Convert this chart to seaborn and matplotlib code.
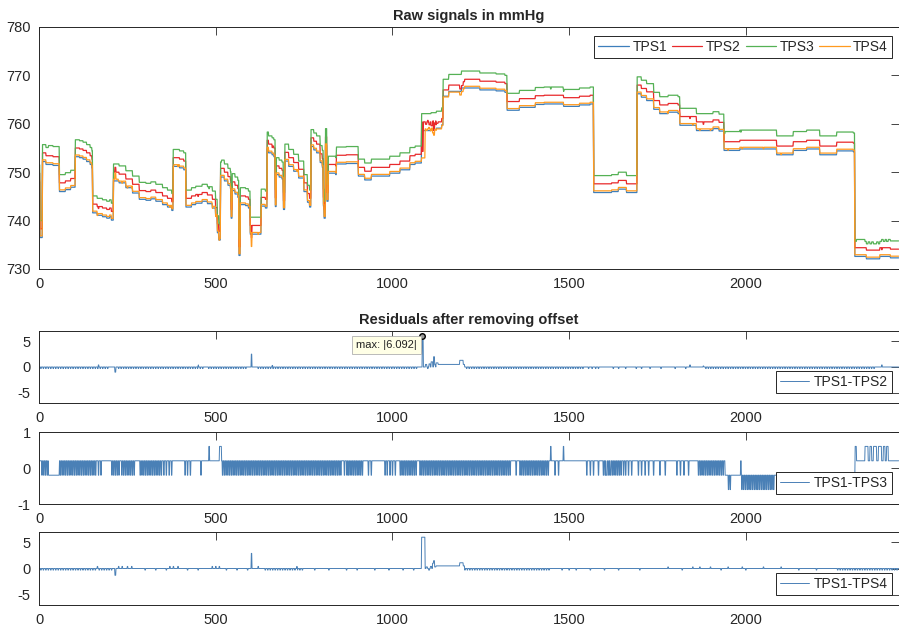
import numpy as np
import pandas as pd
import matplotlib
matplotlib.use("Agg")
import matplotlib.pyplot as plt
import seaborn as sns

# ---------------- data ----------------
n_samples = 2434

# TPS1 raw pressure (mmHg): level held from each knot sample until the next knot
tps1_knot_x = [0, 3, 10, 20, 40, 58, 75, 90, 103, 115, 125, 135, 145, 150,
               152, 165, 180, 192, 200, 205, 211, 227, 246, 265, 284, 303, 317,
               331, 350, 364, 376, 380, 398, 410, 416, 432, 444, 462, 477, 491,
               500, 505, 509, 514, 525, 535, 542, 544, 547, 555, 563, 566, 570,
               585, 593, 598, 629, 641, 646, 650, 660, 665, 669, 672, 680, 688,
               692, 696, 707, 721, 735, 750, 760, 766, 770, 778, 786, 796, 802,
               805, 807, 811, 815, 819, 840, 842, 870, 904, 922, 941, 993, 1022,
               1050, 1065, 1083, 1110, 1125, 1140, 1144, 1160, 1196, 1248, 1294,
               1319, 1325, 1360, 1405, 1430, 1485, 1530, 1560, 1570, 1621, 1640,
               1663, 1693, 1705, 1720, 1740, 1757, 1781, 1809, 1814, 1861, 1908,
               1925, 1939, 1984, 2040, 2088, 2135, 2173, 2210, 2258, 2305, 2309,
               2342, 2380, 2410]
tps1_knot_y = [748.0, 736.5, 752.2, 751.6, 751.4, 746.0, 746.4, 746.9, 753.2,
               753.0, 752.7, 752.2, 751.6, 750.9, 741.6, 741.1, 740.8, 740.5,
               740.8, 740.1, 748.2, 747.8, 746.8, 745.7, 744.4, 744.2, 744.5,
               744.0, 743.3, 742.8, 742.1, 751.2, 750.9, 750.5, 742.8, 743.3,
               743.6, 744.0, 743.5, 742.6, 740.9, 737.5, 736.0, 749.0, 748.2,
               747.3, 746.6, 740.5, 746.2, 745.5, 744.8, 732.8, 743.3, 743.1,
               742.6, 737.2, 743.0, 742.6, 754.8, 754.0, 753.6, 753.2, 742.9,
               749.5, 749.0, 748.6, 742.3, 752.3, 751.2, 750.2, 748.8, 746.0,
               743.8, 742.8, 755.3, 754.6, 754.0, 752.0, 751.0, 743.0, 740.5,
               755.5, 744.0, 749.8, 749.5, 751.7, 751.8, 749.2, 748.4, 749.2,
               749.8, 750.5, 751.6, 751.9, 758.6, 758.8, 759.1, 759.8, 765.7,
               766.7, 767.4, 767.0, 766.8, 766.5, 762.8, 763.4, 764.0, 764.1,
               763.6, 763.9, 764.1, 745.8, 746.0, 746.5, 745.8, 766.2, 765.5,
               764.8, 763.0, 762.1, 762.4, 762.1, 759.7, 758.6, 759.0, 758.5,
               754.5, 754.8, 754.8, 753.6, 754.5, 754.8, 753.6, 754.4, 754.2,
               732.6, 732.1, 732.6, 732.3]

# mean offsets of the other sensors relative to TPS1 (mmHg, read from the gaps)
tps2_offset = 1.8
tps3_offset = 3.5
tps4_offset = 0.35

# --- residual TPS1-TPS2 ---
r12_base_x = [0]
r12_base_y = [0.0]
r12_spikes = [(215, 218, -1.0), (601, 603, 2.5), (1085, 1088, 6.092),
              (1094, 1098, 0.5), (1100, 1102, -0.3), (1104, 1108, 0.6),
              (1110, 1115, 1.0), (1117, 1120, 2.0), (1120, 1123, 0.4),
              (1124, 1130, 0.8), (1130, 1191, 0.5), (1191, 1201, 1.3),
              (1201, 1205, 0.5), (1842, 1844, 0.4), (1880, 1882, 0.5),
              (2385, 2387, 0.4), (168, 170, 0.4), (450, 452, 0.4), (660, 662, 0.3)]
r12_dense = [(5, 200), (225, 470), (480, 590), (620, 1075), (1210, 1540),
             (1880, 2370)]
r12_sparse = [1555, 1565, 1575, 1583, 1625, 1640, 1660, 1690, 1705, 1729,
              1760, 1800, 1830]

# --- residual TPS1-TPS3 ---
r13_base_x = [0, 27, 58, 1942, 2310]
r13_base_y = [0.2, -0.2, 0.2, -0.2, 0.2]
r13_spikes = [(481, 483, 0.6), (511, 517, 0.6), (1448, 1450, 0.6),
              (1484, 1486, 0.6), (1986, 1988, 0.2), (2310, 2314, 0.6),
              (2338, 2347, 0.6), (2352, 2357, 0.6), (2362, 2371, 0.6),
              (2376, 2385, 0.6), (2390, 2395, 0.6), (2399, 2404, 0.6)]
r13_dense = [(8, 26), (60, 163), (206, 229), (234, 272), (286, 347),
             (519, 857), (875, 918), (1022, 1069), (1078, 1338), (1361, 1446),
             (1602, 1649), (1866, 1937), (1951, 1960), (1989, 2083), (2090, 2300)]
r13_sparse = [168, 175, 353, 360, 368, 375, 413, 420, 428, 458, 864, 871, 932,
              940, 979, 985, 993, 1000, 1008, 1350, 1460, 1470, 1550, 1560,
              1569, 1583, 1597, 1605, 1616, 1654, 1660, 1668, 1677, 1696, 1705,
              1715, 1725, 1739, 1757, 1772, 1805, 1815, 1825, 1838]

# --- residual TPS1-TPS4 ---
r14_base_x = [0]
r14_base_y = [0.0]
r14_spikes = [(215, 218, -1.3), (601, 603, 2.9), (1083, 1093, 6.0),
              (1096, 1100, 0.3), (1103, 1106, -0.3), (1108, 1112, 0.4),
              (1114, 1117, 1.0), (1117, 1120, 1.5), (1120, 1124, 0.3),
              (1124, 1191, 0.5), (1191, 1201, 1.1), (1201, 1205, 0.5),
              (165, 167, 0.4), (225, 227, 0.4), (235, 237, 0.4), (250, 252, 0.4),
              (262, 264, 0.4), (370, 372, 0.4), (380, 382, 0.4), (393, 395, 0.4),
              (490, 492, 0.4), (500, 502, 0.4), (510, 512, 0.4), (620, 622, 0.4),
              (730, 732, 0.4), (1780, 1782, 0.3), (1850, 1852, 0.3),
              (1870, 1872, 0.3), (1900, 1902, 0.3), (1950, 1952, 0.3),
              (1990, 1992, 0.3), (2050, 2052, 0.3), (2100, 2102, 0.3)]
r14_dense = [(5, 160), (170, 210), (640, 750), (1205, 1446), (2260, 2430)]
r14_sparse = [300, 330, 360, 420, 450, 530, 560, 590, 780, 820, 870, 900,
              950, 990, 1030, 1060, 1480, 1500, 1520, 1560, 1600, 1640, 1700,
              1820, 1930, 2000, 2150, 2200]

residual_labels = ["TPS1-TPS2", "TPS1-TPS3", "TPS1-TPS4"]
raw_labels = ["TPS1", "TPS2", "TPS3", "TPS4"]

# ---------------- assemble series ----------------
samples = np.arange(n_samples)


def hold(knot_x, knot_y):
    idx = np.searchsorted(np.asarray(knot_x), samples, side="right") - 1
    return np.asarray(knot_y, dtype=float)[idx]


def residual(base_x, base_y, spikes, dense, sparse, flicker=-0.4, step=4):
    main = hold(base_x, base_y)
    for s, e, v in spikes:
        main[s:e] = v
    full = main.copy()
    dips = list(sparse)
    for s, e in dense:
        dips.extend(range(s, e, step))
    for p in dips:
        if p < n_samples:
            full[p:p + 2] = main[p:p + 2] + flicker
    return main, full


r12_main, r12 = residual(r12_base_x, r12_base_y, r12_spikes, r12_dense, r12_sparse,
                         flicker=-0.3, step=7)
r13_main, r13 = residual(r13_base_x, r13_base_y, r13_spikes, r13_dense, r13_sparse,
                         flicker=-0.4, step=5)
r14_main, r14 = residual(r14_base_x, r14_base_y, r14_spikes, r14_dense, r14_sparse,
                         flicker=-0.3, step=7)

tps1 = hold(tps1_knot_x, tps1_knot_y)
tps2 = tps1 + tps2_offset - r12_main
tps3 = tps1 + tps3_offset - (r13_main - 0.2)
tps4 = tps1 + tps4_offset - r14_main

raw = pd.DataFrame({"sample": samples, "TPS1": tps1, "TPS2": tps2,
                    "TPS3": tps3, "TPS4": tps4})

# ---------------- drawing ----------------
sns.set_style("white")
plt.rcParams["font.family"] = ["Liberation Sans", "DejaVu Sans"]
plt.rcParams["axes.unicode_minus"] = False

raw_colors = ["#3d7ebb", "#e8292b", "#55b155", "#ff9a1f"]
res_color = "#4a80b6"
spine_c = "#262626"

fig = plt.figure(figsize=(8.99, 6.29), dpi=100)
W, H = 899.0, 629.0
left = 39 / W
width = 1.0 - left


def make_ax(top_px, bottom_px):
    return fig.add_axes([left, 1 - bottom_px / H, width, (bottom_px - top_px) / H])


ax0 = make_ax(27, 269)
ax1 = make_ax(331, 403)
ax2 = make_ax(432, 504)
ax3 = make_ax(532, 605)


def style(ax):
    for sp in ax.spines.values():
        sp.set_color(spine_c)
        sp.set_linewidth(0.7)
    ax.tick_params(direction="in", length=6, width=0.6, colors=spine_c,
                   top=True, right=True, labelsize=10.5, pad=6,
                   labelcolor="#262626")
    ax.set_xlim(0, n_samples)
    ax.set_xticks([0, 500, 1000, 1500, 2000])
    ax.set_xlabel("")
    ax.set_ylabel("")


for lab, col in zip(raw_labels, raw_colors):
    sns.lineplot(data=raw, x="sample", y=lab, ax=ax0, color=col, lw=0.9,
                 label=lab, estimator=None, sort=False)
style(ax0)
ax0.set_ylim(730, 780)
ax0.set_yticks([730, 740, 750, 760, 770, 780])
ax0.set_title("Raw signals in mmHg", fontsize=10.5, fontweight="bold", pad=5)
leg = ax0.legend(loc="upper right", bbox_to_anchor=(0.992, 0.963), ncol=4,
                 fontsize=10, handlelength=2.2, handletextpad=0.25,
                 columnspacing=0.35, borderpad=0.3, borderaxespad=0,
                 fancybox=False, framealpha=1, edgecolor=spine_c)
leg.get_frame().set_linewidth(0.7)

res_axes = [ax1, ax2, ax3]
res_series = [r12, r13, r14]
ylims = [(-7, 7), (-1, 1), (-7, 7)]
yticks = [[-5, 0, 5], [-1, 0, 1], [-5, 0, 5]]
for ax, ser, lab, yl, yt in zip(res_axes, res_series, residual_labels, ylims, yticks):
    df = pd.DataFrame({"sample": samples, "value": ser})
    sns.lineplot(data=df, x="sample", y="value", ax=ax, color=res_color,
                 lw=0.7, label=lab, estimator=None, sort=False)
    style(ax)
    ax.set_ylim(*yl)
    ax.set_yticks(yt)
    lg = ax.legend(loc="lower right", bbox_to_anchor=(0.9915, 0.135),
                   fontsize=10, handlelength=2.1, handletextpad=0.3,
                   borderpad=0.3, borderaxespad=0, fancybox=False,
                   framealpha=1, edgecolor=spine_c)
    lg.get_frame().set_linewidth(0.7)

ax1.set_title("Residuals after removing offset", fontsize=10.5,
              fontweight="bold", pad=5)

# data tip on the maximum absolute residual
imax = int(np.argmax(np.abs(r12)))
vmax = r12[imax]
ax1.plot([samples[imax]], [vmax], marker="o", ms=4, mfc="#9a9a9a",
         mec="black", mew=1.0, zorder=5, clip_on=False)
ax1.text(897, 4.35, f"max: |{abs(vmax):.3f}|", fontsize=8, ha="left",
         va="center", color="#222222",
         bbox=dict(boxstyle="square,pad=0.35", fc="#ffffe6", ec="#b0b0b0",
                   lw=0.6), zorder=6)

fig.savefig("out.png", dpi=100)
